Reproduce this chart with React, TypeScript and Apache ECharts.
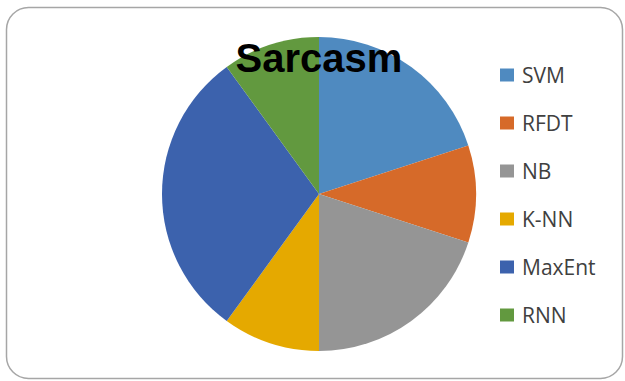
import React, { useEffect, useRef } from "react";
import * as echarts from "echarts";

const categories = ["SVM", "RFDT", "NB", "K-NN", "MaxEnt", "RNN"];
const values = [20, 10, 20, 10, 30, 10];
const colors = ["#4F8AC0", "#D66A29", "#959595", "#E5A900", "#3C62AD", "#62993F"];
const title = "Sarcasm";

export default function App() {
  const ref = useRef<HTMLDivElement>(null);
  useEffect(() => {
    if (!ref.current) return;
    const chart = echarts.init(ref.current, null, { renderer: "svg" });
    chart.setOption({
      animation: false,
      backgroundColor: "#ffffff",
      title: {
        text: title,
        left: 314,
        top: 33,
        textAlign: "center",
        textStyle: {
          fontFamily: "Liberation Sans",
          fontWeight: "bold",
          fontSize: 40,
          color: "#000000",
        },
      },
      graphic: [
        {
          type: "rect",
          shape: { x: 6.5, y: 7.5, width: 616, height: 371, r: 22 },
          style: { fill: "none", stroke: "#a6a6a6", lineWidth: 1.5 },
          z: -1,
        },
      ],
      legend: {
        orient: "vertical",
        left: 500,
        top: 64,
        padding: 0,
        itemWidth: 14,
        itemHeight: 13,
        itemGap: 26,
        icon: "rect",
        data: categories,
        textStyle: {
          fontFamily: "Open Sans",
          fontSize: 21,
          lineHeight: 22,
          color: "#404040",
          padding: [0, 0, 0, 3],
        },
      },
      series: [
        {
          type: "pie",
          center: [319, 194],
          radius: 157,
          startAngle: 90,
          clockwise: true,
          label: { show: false },
          labelLine: { show: false },
          itemStyle: { borderWidth: 0 },
          z: 1,
          data: categories.map((c, i) => ({
            name: c,
            value: values[i],
            itemStyle: { color: colors[i] },
          })),
        },
      ],
    });
    return () => chart.dispose();
  }, []);
  return (
    <div
      ref={ref}
      style={{ position: "fixed", left: 0, top: 0, width: 625, height: 381 }}
    />
  );
}
